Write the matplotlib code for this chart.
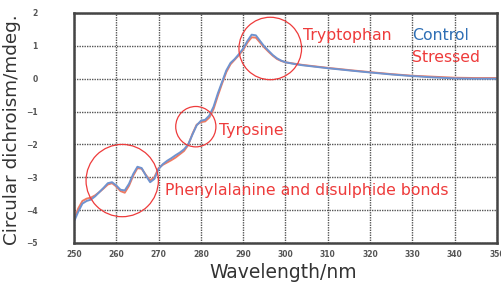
import matplotlib.pyplot as plt
from matplotlib.patches import Ellipse

# Wavelength grid (nm) and CD signal (mdeg)
wavelength = [250, 251, 252, 253, 254, 255, 256, 257, 258, 259, 260, 261, 262, 263,
              264, 265, 266, 267, 268, 269, 270, 271, 272, 273, 274, 275, 276, 277,
              278, 279, 280, 281, 282, 283, 284, 285, 286, 287, 288, 289, 290, 291,
              292, 293, 294, 295, 296, 297, 298, 299, 300, 302, 304, 306, 308, 310,
              313, 316, 320, 325, 330, 335, 340, 345, 350]
control = [-4.35, -4.05, -3.80, -3.72, -3.68, -3.58, -3.45, -3.32, -3.18, -3.15,
           -3.25, -3.38, -3.40, -3.20, -2.90, -2.68, -2.72, -2.95, -3.15, -3.05,
           -2.75, -2.60, -2.50, -2.42, -2.33, -2.25, -2.15, -2.00, -1.70, -1.42,
           -1.28, -1.25, -1.12, -0.85, -0.45, -0.10, 0.25, 0.48, 0.60, 0.75,
           0.92, 1.15, 1.34, 1.32, 1.15, 0.98, 0.85, 0.72, 0.62, 0.55,
           0.50, 0.45, 0.41, 0.38, 0.35, 0.32, 0.28, 0.24, 0.19, 0.13,
           0.08, 0.04, 0.01, 0.00, 0.00]
stressed = [-4.30, -3.95, -3.72, -3.65, -3.62, -3.55, -3.45, -3.34, -3.22, -3.18,
            -3.28, -3.42, -3.47, -3.26, -2.95, -2.72, -2.74, -2.93, -3.10, -3.00,
            -2.72, -2.62, -2.55, -2.48, -2.40, -2.30, -2.20, -2.02, -1.68, -1.40,
            -1.32, -1.30, -1.18, -0.92, -0.52, -0.15, 0.20, 0.44, 0.58, 0.72,
            0.88, 1.10, 1.26, 1.25, 1.10, 0.95, 0.82, 0.70, 0.60, 0.54,
            0.50, 0.46, 0.42, 0.39, 0.36, 0.33, 0.29, 0.25, 0.20, 0.14,
            0.09, 0.06, 0.03, 0.02, 0.02]

# highlighted bands: centre wavelength, centre value, width nm, height mdeg
bands = [(261.4, -3.10, 17.1, 2.2),
         (278.8, -1.46, 9.5, 1.23),
         (296.4, 0.92, 14.8, 1.9)]

xticks = list(range(250, 351, 10))
yticks = list(range(-5, 3))

red = '#ee3b3b'
blue = '#2f6fb5'

fig = plt.figure(figsize=(5.02, 2.85), dpi=100)
ax = fig.add_axes([0.1474, 0.1474, 0.8426, 0.807])

ax.plot(wavelength, stressed, color='#f07a62', lw=1.4, solid_joinstyle='round')
ax.plot(wavelength, control, color='#6f93cf', lw=1.4, solid_joinstyle='round')

for cx, cy, w, h in bands:
    ax.add_patch(Ellipse((cx, cy), w, h, fill=False, ec=red, lw=0.9, zorder=5))

ax.set_xlim(250, 350)
ax.set_ylim(-5, 2)
ax.set_xticks(xticks)
ax.set_yticks(yticks)
ax.tick_params(length=0, labelsize=5.5, colors='#555555', pad=5)
ax.tick_params(axis='y', pad=26)
for lab in ax.get_xticklabels() + ax.get_yticklabels():
    lab.set_fontweight('bold')
ax.grid(True, color='#555555', lw=1.0, ls=(0, (1, 0.8)))
ax.set_axisbelow(True)
for s in ax.spines.values():
    s.set_color('#444444')
    s.set_linewidth(1.8)

fs = 11.3
fig.text(303 / 502, 1 - 36 / 285, 'Tryptophan', color=red, fontsize=fs, va='center')
fig.text(412 / 502, 1 - 36 / 285, 'Control', color=blue, fontsize=fs, va='center')
fig.text(412 / 502, 1 - 58 / 285, 'Stressed', color=red, fontsize=fs, va='center')
fig.text(219 / 502, 1 - 131 / 285, 'Tyrosine', color=red, fontsize=fs, va='center')
fig.text(165 / 502, 1 - 191 / 285, 'Phenylalanine and disulphide bonds', color=red,
         fontsize=fs, va='center')

fig.text(12 / 502, 1 - 130 / 285, 'Circular dichroism/mdeg.', rotation=90,
         fontsize=13.2, color='#333333', ha='center', va='center')
fig.text(283 / 502, 1 - 272 / 285, 'Wavelength/nm', fontsize=13.5, color='#333333',
         ha='center', va='center')

fig.savefig('out.png', dpi=100)
